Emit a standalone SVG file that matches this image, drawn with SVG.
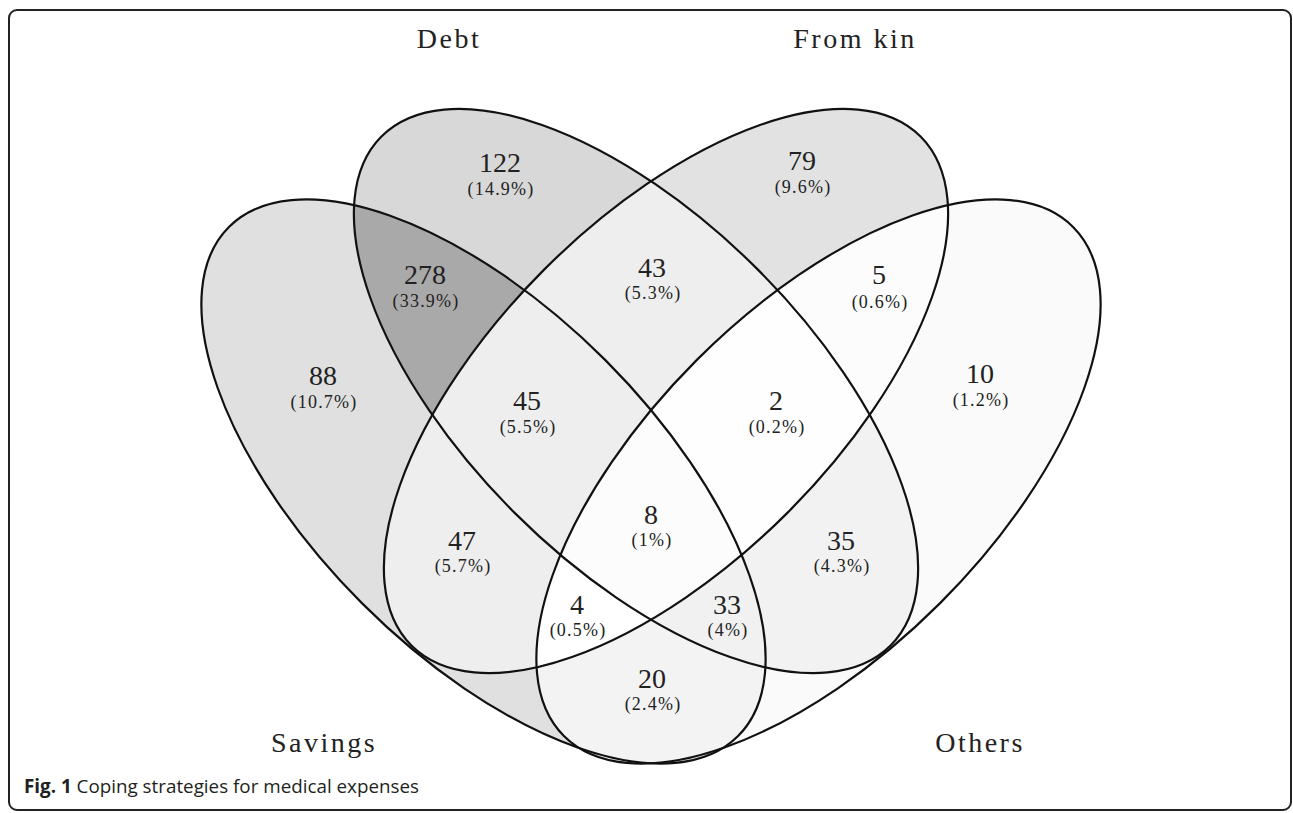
<svg xmlns="http://www.w3.org/2000/svg" xmlns:xlink="http://www.w3.org/1999/xlink" width="1293" height="813" viewBox="0 0 1293 813">
<style>
.ol{fill:none;stroke:#111;stroke-width:2.2}
.t{font-family:"Liberation Serif","Times New Roman",serif;font-size:28px;fill:#222;letter-spacing:2.5px;text-anchor:middle}
.n{font-family:"Liberation Serif","Times New Roman",serif;font-size:28px;fill:#222;text-anchor:middle}
.p{font-family:"Liberation Serif","Times New Roman",serif;font-size:18px;fill:#222;text-anchor:middle;letter-spacing:1.2px}
.cap{font-family:"Open Sans","Liberation Sans",sans-serif;font-size:19px;fill:#231f20}
</style>
<defs>
<ellipse id="eS" cx="483.5" cy="481.5" rx="360" ry="172" transform="rotate(45 483.5 481.5)"/>
<ellipse id="eD" cx="636" cy="391" rx="360" ry="172" transform="rotate(45 636 391)"/>
<ellipse id="eK" cx="666" cy="391" rx="360" ry="172" transform="rotate(-45 666 391)"/>
<ellipse id="eO" cx="818.5" cy="481.5" rx="360" ry="172" transform="rotate(-45 818.5 481.5)"/>
<clipPath id="cS"><use xlink:href="#eS"/></clipPath>
<clipPath id="cD"><use xlink:href="#eD"/></clipPath>
<clipPath id="cK"><use xlink:href="#eK"/></clipPath>
<clipPath id="cO"><use xlink:href="#eO"/></clipPath>
</defs>
<rect x="0" y="0" width="1293" height="813" fill="#fff"/>
<rect x="9" y="10" width="1282" height="800" rx="8" fill="none" stroke="#222" stroke-width="2"/>

<g id="fills">
<use xlink:href="#eS" fill="#e0e0e0"/>
<use xlink:href="#eD" fill="#d8d8d8"/>
<use xlink:href="#eK" fill="#e2e2e2"/>
<use xlink:href="#eO" fill="#fafafa"/>
<g clip-path="url(#cS)"><use xlink:href="#eD" fill="#a9a9a9"/></g>
<g clip-path="url(#cS)"><use xlink:href="#eK" fill="#eeeeee"/></g>
<g clip-path="url(#cS)"><use xlink:href="#eO" fill="#f3f3f3"/></g>
<g clip-path="url(#cD)"><use xlink:href="#eK" fill="#eeeeee"/></g>
<g clip-path="url(#cD)"><use xlink:href="#eO" fill="#f2f2f2"/></g>
<g clip-path="url(#cK)"><use xlink:href="#eO" fill="#fcfcfc"/></g>
<g clip-path="url(#cS)"><g clip-path="url(#cD)"><use xlink:href="#eK" fill="#eeeeee"/></g></g>
<g clip-path="url(#cS)"><g clip-path="url(#cD)"><use xlink:href="#eO" fill="#f1f1f1"/></g></g>
<g clip-path="url(#cS)"><g clip-path="url(#cK)"><use xlink:href="#eO" fill="#ffffff"/></g></g>
<g clip-path="url(#cD)"><g clip-path="url(#cK)"><use xlink:href="#eO" fill="#fefefe"/></g></g>
<g clip-path="url(#cS)"><g clip-path="url(#cD)"><g clip-path="url(#cK)"><use xlink:href="#eO" fill="#fcfcfc"/></g></g></g>
</g>

<g id="savings">
<use xlink:href="#eS" class="ol"/>
<text class="t" x="324" y="752">Savings</text>
</g>
<g id="debt">
<use xlink:href="#eD" class="ol"/>
<text class="t" x="449" y="48">Debt</text>
</g>
<g id="fromkin">
<use xlink:href="#eK" class="ol"/>
<text class="t" x="855" y="48">From kin</text>
</g>
<g id="others">
<use xlink:href="#eO" class="ol"/>
<text class="t" x="980" y="752">Others</text>
</g>

<g id="counts">
<text class="n" x="323" y="385">88</text><text class="p" x="324" y="408">(10.7%)</text>
<text class="n" x="500" y="172">122</text><text class="p" x="501" y="195">(14.9%)</text>
<text class="n" x="802" y="170">79</text><text class="p" x="803" y="193">(9.6%)</text>
<text class="n" x="980" y="383">10</text><text class="p" x="981" y="406">(1.2%)</text>
<text class="n" x="425" y="284">278</text><text class="p" x="426" y="307">(33.9%)</text>
<text class="n" x="652" y="277">43</text><text class="p" x="653" y="299">(5.3%)</text>
<text class="n" x="879" y="284">5</text><text class="p" x="880" y="308">(0.6%)</text>
<text class="n" x="527" y="410">45</text><text class="p" x="528" y="433">(5.5%)</text>
<text class="n" x="776" y="410">2</text><text class="p" x="777" y="433">(0.2%)</text>
<text class="n" x="462" y="550">47</text><text class="p" x="463" y="572">(5.7%)</text>
<text class="n" x="651" y="524">8</text><text class="p" x="652" y="546">(1%)</text>
<text class="n" x="841" y="550">35</text><text class="p" x="842" y="572">(4.3%)</text>
<text class="n" x="577" y="614">4</text><text class="p" x="578" y="636">(0.5%)</text>
<text class="n" x="727" y="614">33</text><text class="p" x="728" y="636">(4%)</text>
<text class="n" x="652" y="688">20</text><text class="p" x="653" y="710">(2.4%)</text>
</g>

<text class="cap" x="24" y="793" textLength="395" lengthAdjust="spacingAndGlyphs"><tspan font-weight="bold">Fig. 1</tspan> Coping strategies for medical expenses</text>
</svg>
